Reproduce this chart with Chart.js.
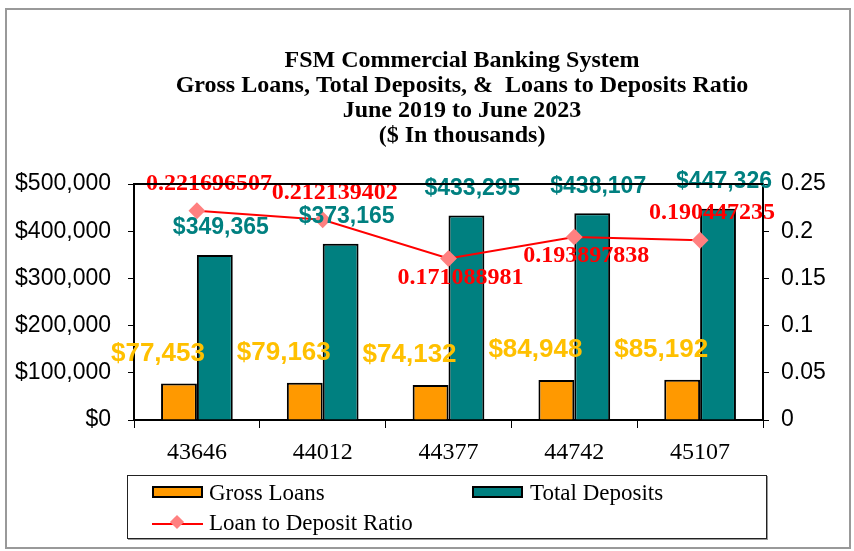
<!DOCTYPE html>
<html>
<head>
<meta charset="utf-8">
<script src="https://cdn.jsdelivr.net/npm/chart.js@4"></script>
<style>
  body { margin: 0; background: #fff; }
  #wrap { position: relative; width: 854px; height: 551px; }
  #frame { position: absolute; left: 5px; top: 8px; width: 842px; height: 537px; border: 2px solid #999; pointer-events: none; }
  #legend { position: absolute; left: 127px; top: 475px; width: 638px; height: 62px; border: 1px solid #222;
            box-shadow: 1px 1px 0 #999;
            font-family: "Liberation Serif", serif; font-size: 23px; color: #000; }
  .txt { position: absolute; line-height: 24px; white-space: nowrap; }
  .sw { position: absolute; width: 47px; height: 8px; border: 2px solid #000; }
  .ln { position: absolute; width: 51px; height: 2px; background: #f00; }
  .ln i { position: absolute; left: 20px; top: -6px; width: 10px; height: 10px; background: #ff8080; transform: rotate(45deg); }
</style>
</head>
<body>
<div id="wrap">
  <canvas id="c" width="854" height="551"></canvas>
  <div id="frame"></div>
  <div id="legend">
    <span class="sw" style="left:24px;top:10px;background:#ff9900"></span>
    <span class="txt" style="left:81px;top:5px">Gross Loans</span>
    <span class="sw" style="left:344px;top:10px;background:#008080"></span>
    <span class="txt" style="left:402px;top:5px">Total Deposits</span>
    <span class="ln" style="left:24px;top:47px"><i></i></span>
    <span class="txt" style="left:81px;top:35px">Loan to Deposit Ratio</span>
  </div>
</div>
<script>
// data
const categories = ['43646', '44012', '44377', '44742', '45107'];
const grossLoans = [77453, 79163, 74132, 84948, 85192];
const totalDeposits = [349365, 373165, 433295, 438107, 447326];
const loanToDeposit = [0.221696507, 0.212139402, 0.171088981, 0.193897838, 0.190447235];
const titleLines = [
  'FSM Commercial Banking System',
  'Gross Loans, Total Deposits, &  Loans to Deposits Ratio',
  'June 2019 to June 2023',
  '($ In thousands)'
];
// where each ratio label sits relative to its point
const ratioLabelSide = ['above', 'above', 'below', 'below', 'above'];

const money = v => '$' + Number(v).toLocaleString('en-US');

const titlePlugin = {
  id: 'titleLines',
  afterDraw(chart) {
    const ctx = chart.ctx;
    ctx.save();
    ctx.font = 'bold 24px "Liberation Serif"';
    ctx.fillStyle = '#000';
    ctx.textAlign = 'center';
    ctx.textBaseline = 'alphabetic';
    titleLines.forEach((t, i) => ctx.fillText(t, 462, 67 + i * 25));
    ctx.restore();
  }
};

const frameTop = {
  id: 'frameTop',
  afterDraw(chart) {
    const a = chart.chartArea, ctx = chart.ctx;
    ctx.save();
    ctx.strokeStyle = '#000';
    ctx.lineWidth = 2;
    ctx.beginPath();
    ctx.moveTo(a.left, a.top);
    ctx.lineTo(a.right, a.top);
    ctx.stroke();
    ctx.restore();
  }
};

const valueLabels = {
  id: 'valueLabels',
  afterDatasetsDraw(chart) {
    const ctx = chart.ctx;
    ctx.save();
    ctx.textAlign = 'center';
    ctx.textBaseline = 'middle';
    ctx.font = 'bold 26px "Liberation Sans"';
    ctx.fillStyle = '#ffc000';
    chart.getDatasetMeta(0).data.forEach((el, i) => {
      ctx.fillText(money(grossLoans[i]), el.x - 21, el.y - 30);
    });
    ctx.font = 'bold 23px "Liberation Sans"';
    ctx.fillStyle = '#008080';
    chart.getDatasetMeta(1).data.forEach((el, i) => {
      ctx.fillText(money(totalDeposits[i]), el.x + 6, el.y - 27);
    });
    ctx.font = 'bold 24px "Liberation Serif"';
    ctx.fillStyle = '#ff0000';
    chart.getDatasetMeta(2).data.forEach((el, i) => {
      const above = ratioLabelSide[i] === 'above';
      ctx.fillText(String(loanToDeposit[i]), el.x + 12, el.y + (above ? -27 : 19));
    });
    ctx.restore();
  }
};

new Chart(document.getElementById('c'), {
  type: 'bar',
  data: {
    labels: categories,
    datasets: [
      {
        label: 'Gross Loans', data: grossLoans, yAxisID: 'y',
        backgroundColor: '#ff9900', borderColor: '#000', borderWidth: 2,
        categoryPercentage: 0.57, barPercentage: 1.0, order: 2
      },
      {
        label: 'Total Deposits', data: totalDeposits, yAxisID: 'y',
        backgroundColor: '#008080', borderColor: '#000', borderWidth: 2,
        categoryPercentage: 0.57, barPercentage: 1.0, order: 2
      },
      {
        type: 'line', label: 'Loan to Deposit Ratio', data: loanToDeposit, yAxisID: 'y1',
        borderColor: '#ff0000', borderWidth: 2, fill: false, tension: 0,
        pointStyle: 'rectRot', pointRadius: 7, pointBackgroundColor: '#ff8080',
        pointBorderColor: '#ff8080', order: 1
      }
    ]
  },
  options: {
    responsive: false,
    animation: false,
    devicePixelRatio: 1,
    layout: { padding: { top: 184, bottom: 91, left: 0, right: 0 } },
    plugins: { legend: { display: false }, title: { display: false }, tooltip: { enabled: false } },
    scales: {
      x: {
        grid: { offset: true, drawOnChartArea: false, tickLength: 8, color: '#000', lineWidth: 1 },
        border: { color: '#000', width: 2 },
        ticks: { color: '#000', font: { family: 'Liberation Serif', size: 24 }, padding: 10 },
        afterFit: s => { s.height = 40; }
      },
      y: {
        position: 'left', min: 0, max: 500000,
        grid: { drawOnChartArea: false, tickLength: 6, color: '#000' },
        border: { color: '#000', width: 2 },
        ticks: { stepSize: 100000, color: '#000', padding: 17, font: { family: 'Liberation Sans', size: 23 }, callback: v => money(v) },
        afterFit: s => { s.width = 134; }
      },
      y1: {
        position: 'right', min: 0, max: 0.25,
        grid: { drawOnChartArea: false, tickLength: 6, color: '#000' },
        border: { color: '#000', width: 2 },
        ticks: { stepSize: 0.05, color: '#000', padding: 12, font: { family: 'Liberation Sans', size: 23 }, callback: v => String(+v.toFixed(2)) },
        afterFit: s => { s.width = 91; }
      }
    }
  },
  plugins: [titlePlugin, frameTop, valueLabels]
});
</script>
</body>
</html>
